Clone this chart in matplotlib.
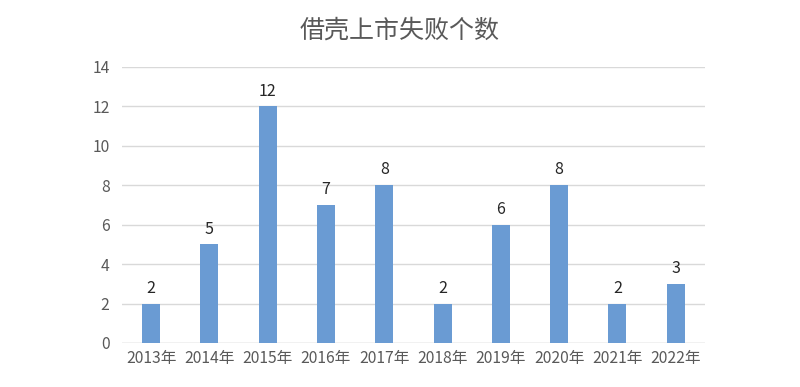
import matplotlib.pyplot as plt

plt.rcParams['font.family'] = ['Noto Sans CJK SC', 'DejaVu Sans']

years = ['2013年', '2014年', '2015年', '2016年', '2017年',
         '2018年', '2019年', '2020年', '2021年', '2022年']
counts = [2, 5, 12, 7, 8, 2, 6, 8, 2, 3]

bar_color = '#6A9BD3'
text_color = '#595959'

fig = plt.figure(figsize=(8, 3.87), dpi=100)
ax = fig.add_axes([0.1525, 0.1137, 0.7285, 0.7132])

x = range(len(years))
bars = ax.bar(x, counts, width=0.31, color=bar_color, zorder=3)
for b, v in zip(bars, counts):
    ax.text(b.get_x() + b.get_width() / 2, v + 0.35, str(v),
            ha='center', va='bottom', fontsize=11.5, color='#262626')

ax.set_xlim(-0.5, len(years) - 0.5)
ax.set_ylim(0, 14)
ax.set_yticks(range(0, 15, 2))
ax.set_xticks(list(x))
ax.set_xticklabels(years)
ax.tick_params(axis='both', length=0, labelsize=11.3, colors=text_color)
ax.tick_params(axis='y', pad=9)
ax.tick_params(axis='x', pad=5)
ax.grid(axis='y', color='#D9D9D9', linewidth=1, zorder=0)
for s in ax.spines.values():
    s.set_visible(False)
ax.axhline(0, color='#D9D9D9', linewidth=1, zorder=1)

fig.text(0.5, 0.922, '借壳上市失败个数', ha='center', va='center',
         fontsize=18, color=text_color)

fig.savefig('out.png', dpi=100)
